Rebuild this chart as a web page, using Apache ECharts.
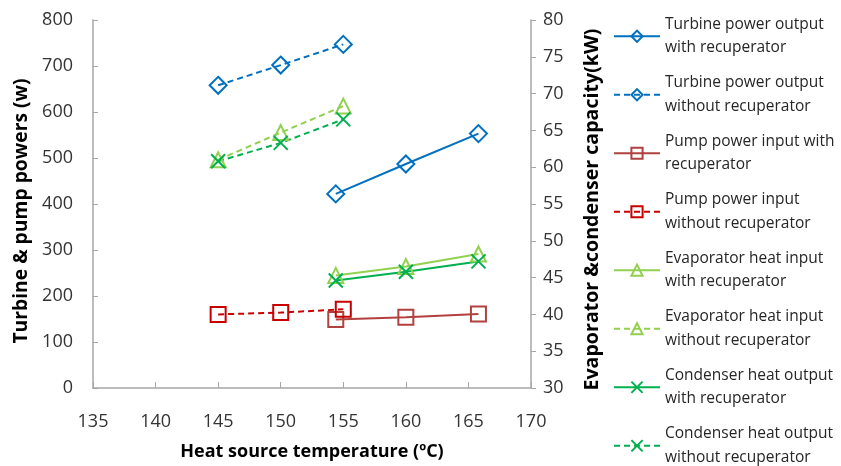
<!DOCTYPE html>
<html>
<head>
<meta charset="utf-8">
<script src="https://cdn.jsdelivr.net/npm/echarts@6/dist/echarts.min.js"></script>
<style>html,body{margin:0;padding:0;background:#fff;}#c{width:841px;height:466px;}</style>
</head>
<body>
<div id="c"></div>
<script>
// Data
const tempWith = [154.4, 160, 165.8];
const tempWithout = [145, 150, 155];
const turbineWith = [422, 487, 553];
const turbineWithout = [658, 702, 747];
const pumpWith = [149, 154, 161];
const pumpWithout = [160, 164, 171];
const evapWith = [45.3, 46.5, 48.2];
const evapWithout = [61.0, 64.7, 68.3];
const condWith = [44.6, 45.8, 47.2];
const condWithout = [60.8, 63.3, 66.5];
const seriesNames = [
  'Turbine power output\nwith recuperator',
  'Turbine power output\nwithout recuperator',
  'Pump power input with\nrecuperator',
  'Pump power input\nwithout recuperator',
  'Evaporator heat input\nwith recuperator',
  'Evaporator heat input\nwithout recuperator',
  'Condenser heat output\nwith recuperator',
  'Condenser heat output\nwithout recuperator'
];

const FONT = 'Open Sans';
const XMARK = 'path://M0,0L10,10M10,0L0,10';
function pairs(xs, ys) { return xs.map((x, i) => [x, ys[i]]); }
function mk(name, xs, ys, color, symbol, size, dashed, yAxisIndex) {
  return {
    name: name, type: 'line', yAxisIndex: yAxisIndex,
    data: pairs(xs, ys),
    symbol: symbol, symbolSize: size,
    lineStyle: { color: color, width: 2, type: dashed ? [6, 4] : 'solid' },
    itemStyle: { color: 'rgba(255,255,255,0)', borderColor: color, borderWidth: 2 },
    emphasis: { disabled: true },
    z: 3
  };
}

const chart = echarts.init(document.getElementById('c'), null, { renderer: 'canvas' });
chart.setOption({
  animation: false,
  backgroundColor: '#ffffff',
  grid: { left: 93, right: 310, top: 20, bottom: 78, containLabel: false },
  legend: {
    orient: 'vertical', left: 608, top: -4, height: 520,
    itemWidth: 46, itemHeight: 14, itemGap: -12,
    textStyle: { fontFamily: FONT, fontSize: 15.5, color: '#262626', lineHeight: 23.5, padding: [23.5, 0, 0, 0] },
    data: seriesNames
  },
  xAxis: {
    type: 'value', min: 135, max: 170, interval: 5,
    name: 'Heat source temperature (\u00baC)', nameLocation: 'middle', nameGap: 55,
    nameTextStyle: { fontFamily: FONT, fontSize: 18, fontWeight: 'bold', color: '#000' },
    axisLine: { lineStyle: { color: '#a6a6a6', width: 1.5 } },
    axisTick: { show: true, inside: true, length: 6, lineStyle: { color: '#a6a6a6' } },
    axisLabel: { fontFamily: FONT, fontSize: 18, color: '#333', margin: 25 },
    splitLine: { show: false }
  },
  yAxis: [
    {
      type: 'value', min: 0, max: 800, interval: 100, position: 'left',
      name: 'Turbine & pump powers (w)', nameLocation: 'middle', nameGap: 52,
      nameTextStyle: { fontFamily: FONT, fontSize: 19.3, fontWeight: 'bold', color: '#000', padding: [0, 14, 0, 0] },
      axisLine: { show: true, lineStyle: { color: '#a6a6a6', width: 1.5 } },
      axisTick: { show: true, inside: true, length: 5, lineStyle: { color: '#a6a6a6' } },
      axisLabel: { fontFamily: FONT, fontSize: 18, color: '#333', margin: 20 },
      splitLine: { show: false }
    },
    {
      type: 'value', min: 30, max: 80, interval: 5, position: 'right',
      name: 'Evaporator &condenser capacity(kW)', nameLocation: 'middle', nameGap: 51,
      nameTextStyle: { fontFamily: FONT, fontSize: 19.6, fontWeight: 'bold', color: '#000', padding: [0, 11, 0, 0] },
      axisLine: { show: true, lineStyle: { color: '#a6a6a6', width: 1.5 } },
      axisTick: { show: true, inside: false, length: 5, lineStyle: { color: '#a6a6a6' } },
      axisLabel: { fontFamily: FONT, fontSize: 18, color: '#333', margin: 12 },
      splitLine: { show: false }
    }
  ],
  series: [
    mk(seriesNames[0], tempWith, turbineWith, '#0070C0', 'diamond', 17, false, 0),
    mk(seriesNames[1], tempWithout, turbineWithout, '#0070C0', 'diamond', 17, true, 0),
    mk(seriesNames[2], tempWith, pumpWith, '#B0413E', 'rect', 15, false, 0),
    mk(seriesNames[3], tempWithout, pumpWithout, '#C80000', 'rect', 15, true, 0),
    mk(seriesNames[4], tempWith, evapWith, '#92D050', 'triangle', 15, false, 1),
    mk(seriesNames[5], tempWithout, evapWithout, '#92D050', 'triangle', 15, true, 1),
    mk(seriesNames[6], tempWith, condWith, '#00B050', XMARK, 14, false, 1),
    mk(seriesNames[7], tempWithout, condWithout, '#00B050', XMARK, 14, true, 1)
  ]
});
</script>
</body>
</html>
